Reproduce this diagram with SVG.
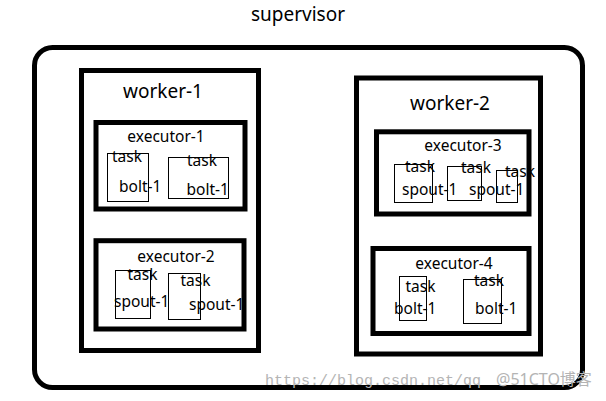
<svg xmlns="http://www.w3.org/2000/svg" width="606" height="401" viewBox="0 0 606 401">
<style>
text{font-family:"Noto Sans","Liberation Sans",sans-serif;fill:#000}
.big{font-size:19px}
.ex{font-size:15.5px}
.t{font-size:15.5px}
.outer{fill:none;stroke:#000;stroke-width:5}
.worker{fill:none;stroke:#000;stroke-width:5}
.exec{fill:none;stroke:#000;stroke-width:5}
.task{fill:none;stroke:#000;stroke-width:1}
.wm{font-family:"Liberation Mono",monospace;font-size:15px;fill:#b4b4b4}
.wm2{font-family:"Noto Sans","Noto Sans CJK SC",sans-serif;font-size:16px;fill:#b4b4b4}
</style>
<rect width="606" height="401" fill="#fff"/>
<g id="supervisor">
<rect class="outer" x="34.5" y="47.5" width="548" height="340" rx="18"/>
<text class="big" x="298" y="21" text-anchor="middle">supervisor</text>
</g>
<g id="worker-1">
<rect class="worker" x="81.5" y="70.5" width="177" height="280"/>
<text class="big" x="163" y="98" text-anchor="middle">worker-1</text>
</g>
<g id="worker-2">
<rect class="worker" x="356.5" y="78" width="184" height="276"/>
<text class="big" x="450" y="110" text-anchor="middle">worker-2</text>
</g>
<g id="executor-1">
<text class="ex" x="166" y="142" text-anchor="middle">executor-1</text>
<rect class="task" x="107.5" y="153.5" width="41" height="48"/>
<text class="t" x="112" y="162">task</text>
<text class="t" x="119" y="192">bolt-1</text>
<rect class="task" x="168.5" y="157.5" width="60" height="41"/>
<text class="t" x="187" y="166">task</text>
<text class="t" x="186.5" y="195">bolt-1</text>
<rect class="exec" x="96" y="122.5" width="149" height="86.5"/>
</g>
<g id="executor-2">
<text class="ex" x="176" y="262" text-anchor="middle">executor-2</text>
<rect class="task" x="115.5" y="270.5" width="35" height="48"/>
<text class="t" x="127.5" y="280">task</text>
<text class="t" x="114" y="307">spout-1</text>
<rect class="task" x="168.5" y="273.5" width="32" height="46"/>
<text class="t" x="180.5" y="286">task</text>
<text class="t" x="189" y="310">spout-1</text>
<rect class="exec" x="96" y="240.7" width="148" height="88.3"/>
</g>
<g id="executor-3">
<text class="ex" x="463" y="151" text-anchor="middle">executor-3</text>
<rect class="task" x="394.5" y="164.5" width="38" height="38"/>
<text class="t" x="405" y="172">task</text>
<text class="t" x="402" y="195">spout-1</text>
<rect class="task" x="447.5" y="166.5" width="34" height="34"/>
<text class="t" x="461" y="173">task</text>
<text class="t" x="469" y="195">spout-1</text>
<rect class="task" x="496.5" y="170.5" width="21" height="32"/>
<text class="t" x="505" y="177">task</text>
<rect class="exec" x="376.5" y="131.8" width="152.5" height="82.2"/>
</g>
<g id="executor-4">
<text class="ex" x="454" y="268.5" text-anchor="middle">executor-4</text>
<rect class="task" x="399.5" y="276.5" width="27" height="44"/>
<text class="t" x="405.5" y="292">task</text>
<text class="t" x="394" y="313.5">bolt-1</text>
<rect class="task" x="463.5" y="279.5" width="38" height="44"/>
<text class="t" x="474" y="286">task</text>
<text class="t" x="475" y="313.5">bolt-1</text>
<rect class="exec" x="373" y="248.5" width="156" height="85"/>
</g>
<g id="connectors"></g>
<g id="watermark">
<text class="wm" x="265" y="385">https://blog.csdn.net/qq</text>
<text class="wm2" x="496" y="385">@51CTO博客</text>
</g>
</svg>
